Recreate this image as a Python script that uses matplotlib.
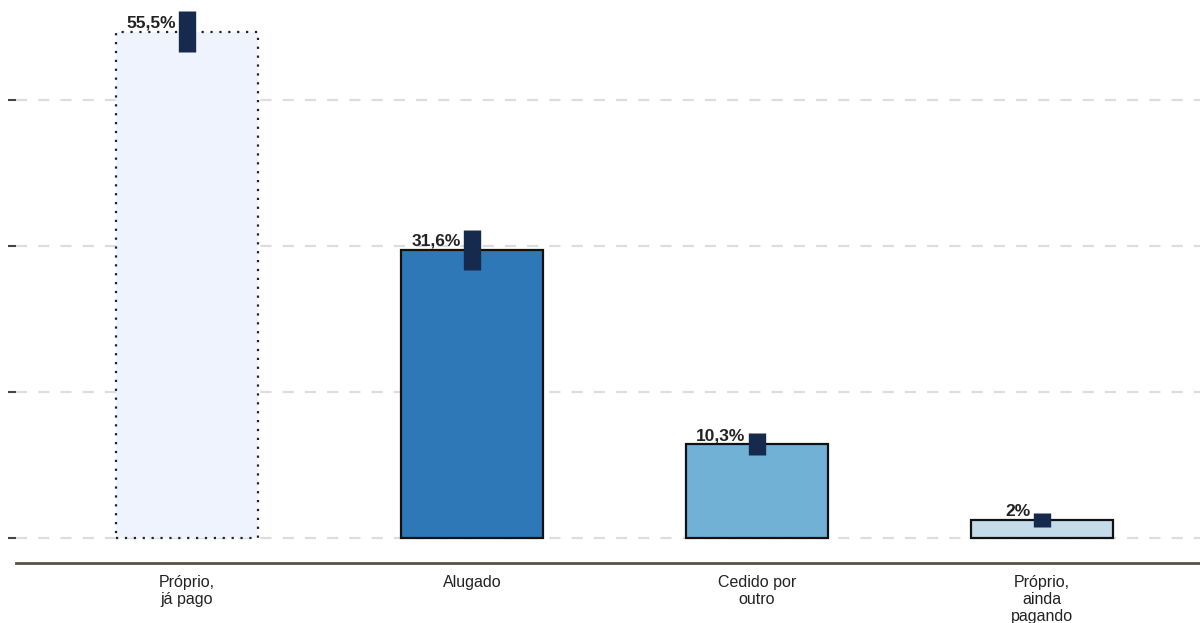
import matplotlib.pyplot as plt

plt.rcParams['font.family'] = ['Liberation Sans', 'DejaVu Sans']

categories = ['Próprio,\njá pago', 'Alugado', 'Cedido por\noutro', 'Próprio,\nainda\npagando']
values = [55.5, 31.6, 10.3, 2.0]
errors = [2.2, 2.2, 1.25, 0.75]
labels = ['55,5%', '31,6%', '10,3%', '2%']
colors = ['#eef3fd', '#2e78b8', '#72b1d6', '#c4dcea']

fig = plt.figure(figsize=(12, 6.23), dpi=100)
ax = fig.add_axes([16/1200, 1 - 563/623, 1 - 16/1200, 563/623])

x = list(range(len(categories)))
for i in x:
    if i == 0:
        ax.bar(i, values[i], width=0.5, color=colors[i], edgecolor='#222222',
               linewidth=1.6, linestyle=(0, (1, 3)), zorder=2)
    else:
        ax.bar(i, values[i], width=0.5, color=colors[i], edgecolor='#111111',
               linewidth=1.6, zorder=2)

ax.errorbar(x, values, yerr=errors, fmt='none', ecolor='#162a4d',
            elinewidth=12.5, capsize=0, zorder=3)

for i in x:
    ax.text(i - 0.04, values[i] + 0.1, labels[i], ha='right', va='bottom',
            fontsize=12.5, fontweight='bold', color='#222222', zorder=4)

ax.set_xlim(-0.6, 3.554)
ax.set_ylim(-2.74, 58.96)
ax.set_yticks([0, 16, 32, 48])
ax.set_yticklabels([])
ax.yaxis.grid(True, linestyle=(0, (5, 5)), color='#dddddd', linewidth=1.6, zorder=0)
ax.set_axisbelow(True)
ax.tick_params(axis='y', length=6, width=1.5, color='#444444')
ax.tick_params(axis='x', length=0, pad=9)
ax.set_xticks(x)
ax.set_xticklabels(categories, fontsize=11.5, color='#222222', linespacing=1.15)

for s in ['top', 'right', 'left']:
    ax.spines[s].set_visible(False)
ax.spines['bottom'].set_color('#5a5046')
ax.spines['bottom'].set_linewidth(2)

fig.savefig('out.png', dpi=100)
